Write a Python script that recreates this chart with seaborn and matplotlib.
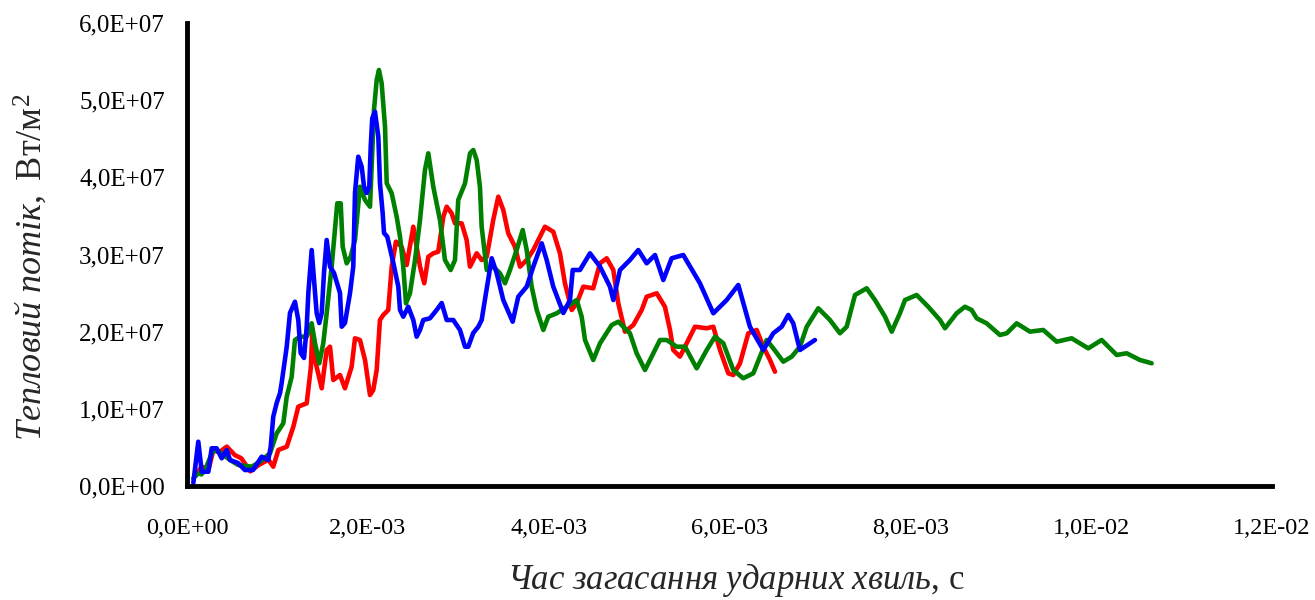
import numpy as np
import pandas as pd
import matplotlib
matplotlib.use("Agg")
import matplotlib.pyplot as plt
from matplotlib.ticker import FixedLocator, FuncFormatter
import seaborn as sns

# ---- data (time in ms, heat flux in 1e7 W/m^2) ----
t_red = [0.10, 0.16, 0.24, 0.29, 0.36, 0.44, 0.53, 0.60, 0.70, 0.79, 0.90, 0.954, 1.010, 1.103, 1.176,
         1.231, 1.324, 1.371, 1.386, 1.416, 1.490, 1.545, 1.582, 1.618, 1.692, 1.747, 1.821, 1.858, 1.913,
         1.969, 2.024, 2.060, 2.098, 2.134, 2.171, 2.226, 2.264, 2.311, 2.374, 2.430, 2.503, 2.577, 2.624,
         2.669, 2.724, 2.779, 2.835, 2.872, 2.927, 2.964, 3.038, 3.093, 3.130, 3.185, 3.204, 3.259, 3.315,
         3.387, 3.443, 3.498, 3.553, 3.627, 3.683, 3.757, 3.830, 3.959, 4.051, 4.125, 4.180, 4.255, 4.310,
         4.383, 4.493, 4.568, 4.642, 4.715, 4.770, 4.844, 4.936, 5.029, 5.084, 5.195, 5.286, 5.342, 5.378,
         5.452, 5.526, 5.618, 5.748, 5.821, 5.895, 5.987, 6.042, 6.116, 6.208, 6.301, 6.374, 6.448, 6.503]
q_red = [0.15, 0.25, 0.22, 0.46, 0.44, 0.51, 0.40, 0.36, 0.19, 0.27, 0.34, 0.25, 0.467, 0.509, 0.768,
         1.028, 1.072, 1.546, 2.022, 1.633, 1.266, 1.762, 1.805, 1.374, 1.438, 1.266, 1.546, 1.914, 1.892,
         1.633, 1.179, 1.244, 1.503, 2.151, 2.216, 2.281, 2.842, 3.166, 3.101, 2.864, 3.360, 2.842, 2.627,
         2.971, 3.015, 3.036, 3.490, 3.619, 3.534, 3.404, 3.404, 3.188, 2.842, 2.971, 3.015, 2.929, 2.971,
         3.447, 3.749, 3.577, 3.275, 3.101, 2.842, 2.929, 3.058, 3.360, 3.295, 3.015, 2.627, 2.281, 2.367,
         2.583, 2.562, 2.886, 2.951, 2.799, 2.367, 2.000, 2.086, 2.281, 2.453, 2.497, 2.323, 2.022, 1.762,
         1.676, 1.849, 2.064, 2.044, 2.064, 1.762, 1.460, 1.438, 1.590, 1.979, 2.022, 1.805, 1.633, 1.481]

t_green = [0.07, 0.125, 0.16, 0.20, 0.291, 0.36, 0.476, 0.567, 0.716, 0.807, 0.918, 0.992, 1.065, 1.103,
           1.158, 1.194, 1.250, 1.324, 1.379, 1.416, 1.463, 1.507, 1.545, 1.600, 1.629, 1.662, 1.700, 1.722,
           1.766, 1.810, 1.858, 1.913, 1.969, 2.024, 2.068, 2.098, 2.123, 2.153, 2.190, 2.209, 2.264, 2.319,
           2.356, 2.392, 2.422, 2.466, 2.522, 2.577, 2.632, 2.669, 2.724, 2.798, 2.853, 2.916, 2.964, 3.000,
           3.075, 3.130, 3.166, 3.204, 3.240, 3.259, 3.315, 3.387, 3.462, 3.517, 3.572, 3.646, 3.713, 3.757,
           3.812, 3.868, 3.941, 3.996, 4.089, 4.199, 4.310, 4.365, 4.402, 4.493, 4.568, 4.697, 4.770, 4.899,
           4.973, 5.065, 5.176, 5.231, 5.305, 5.416, 5.508, 5.637, 5.748, 5.839, 5.932, 6.042, 6.152, 6.263,
           6.337, 6.411, 6.484, 6.595, 6.688, 6.779, 6.854, 6.982, 7.111, 7.222, 7.296, 7.388, 7.517, 7.609,
           7.720, 7.794, 7.885, 7.941, 8.070, 8.198, 8.328, 8.383, 8.512, 8.604, 8.678, 8.734, 8.844, 8.991,
           9.066, 9.176, 9.323, 9.470, 9.618, 9.784, 9.968, 10.116, 10.282, 10.392, 10.540, 10.669]
q_green = [0.10, 0.165, 0.15, 0.21, 0.467, 0.44, 0.337, 0.272, 0.250, 0.315, 0.424, 0.683, 0.812, 1.157,
           1.416, 1.892, 1.935, 1.935, 2.108, 1.849, 1.590, 1.849, 2.238, 2.842, 3.231, 3.663, 3.663, 3.101,
           2.886, 2.971, 3.188, 3.878, 3.706, 3.619, 4.872, 5.261, 5.391, 5.218, 4.656, 3.923, 3.793, 3.490,
           3.231, 2.842, 2.367, 2.497, 2.929, 3.447, 4.095, 4.311, 3.878, 3.447, 2.929, 2.799, 2.929, 3.706,
           3.923, 4.311, 4.354, 4.224, 3.878, 3.360, 2.799, 2.842, 2.756, 2.627, 2.799, 3.058, 3.317, 3.058,
           2.583, 2.281, 2.022, 2.194, 2.238, 2.323, 2.410, 2.194, 1.892, 1.633, 1.849, 2.086, 2.129, 1.979,
           1.720, 1.503, 1.762, 1.892, 1.892, 1.805, 1.805, 1.525, 1.762, 1.935, 1.849, 1.503, 1.396, 1.460,
           1.676, 1.892, 1.784, 1.611, 1.676, 1.805, 2.064, 2.303, 2.151, 1.979, 2.064, 2.475, 2.562, 2.410,
           2.194, 2.000, 2.238, 2.410, 2.475, 2.323, 2.151, 2.044, 2.238, 2.323, 2.281, 2.173, 2.108, 1.957,
           1.979, 2.108, 2.000, 2.022, 1.870, 1.914, 1.784, 1.892, 1.698, 1.720, 1.633, 1.590]

t_blue = [0.07, 0.125, 0.163, 0.236, 0.273, 0.328, 0.384, 0.439, 0.476, 0.564, 0.641, 0.730, 0.826, 0.899,
          0.926, 0.954, 0.992, 1.029, 1.047, 1.103, 1.139, 1.194, 1.231, 1.257, 1.294, 1.324, 1.342, 1.379,
          1.405, 1.434, 1.463, 1.490, 1.515, 1.545, 1.582, 1.626, 1.692, 1.711, 1.747, 1.803, 1.839, 1.858,
          1.894, 1.932, 1.958, 1.987, 2.016, 2.032, 2.049, 2.079, 2.116, 2.134, 2.164, 2.179, 2.215, 2.282,
          2.337, 2.356, 2.392, 2.447, 2.503, 2.540, 2.577, 2.613, 2.687, 2.761, 2.817, 2.872, 2.945, 3.019,
          3.075, 3.111, 3.166, 3.222, 3.259, 3.307, 3.370, 3.425, 3.498, 3.602, 3.664, 3.757, 3.830, 3.923,
          3.978, 4.051, 4.162, 4.236, 4.266, 4.346, 4.457, 4.568, 4.678, 4.715, 4.789, 4.899, 4.991, 5.084,
          5.176, 5.268, 5.360, 5.489, 5.673, 5.821, 5.969, 6.097, 6.226, 6.374, 6.484, 6.577, 6.650, 6.705,
          6.779, 6.945]
q_blue = [0.04, 0.574, 0.185, 0.185, 0.489, 0.489, 0.359, 0.467, 0.337, 0.298, 0.207, 0.207, 0.380, 0.337,
          0.509, 0.898, 1.076, 1.205, 1.335, 1.805, 2.242, 2.388, 2.151, 1.723, 1.659, 2.064, 2.501, 3.058,
          2.669, 2.242, 2.112, 2.242, 2.760, 3.188, 2.842, 2.760, 2.501, 2.064, 2.112, 2.501, 2.842, 3.797,
          4.267, 4.138, 3.878, 3.797, 3.878, 4.397, 4.765, 4.850, 4.526, 3.926, 3.538, 3.278, 3.231, 2.890,
          2.583, 2.281, 2.194, 2.323, 2.151, 1.935, 2.022, 2.151, 2.173, 2.281, 2.371, 2.151, 2.151, 2.022,
          1.805, 1.805, 1.983, 2.064, 2.151, 2.501, 2.951, 2.760, 2.410, 2.129, 2.453, 2.583, 2.842, 3.145,
          2.929, 2.583, 2.242, 2.410, 2.799, 2.799, 3.015, 2.842, 2.583, 2.410, 2.799, 2.929, 3.058, 2.886,
          2.993, 2.669, 2.951, 2.993, 2.627, 2.238, 2.410, 2.605, 2.064, 1.762, 1.979, 2.064, 2.216, 2.108,
          1.762, 1.892]

series_names = ["1", "2", "3"]
series_colors = ["#FF0000", "#008000", "#0000FF"]

x_ticks = [0.0, 0.002, 0.004, 0.006, 0.008, 0.010, 0.012]
y_ticks = [0.0, 1e7, 2e7, 3e7, 4e7, 5e7, 6e7]

# ---- long-format table ----
frames = []
for name, tt, qq in zip(series_names, [t_red, t_green, t_blue], [q_red, q_green, q_blue]):
    frames.append(pd.DataFrame({"t": np.array(tt) * 1e-3, "q": np.array(qq) * 1e7, "s": name}))
df = pd.concat(frames, ignore_index=True)

sns.set_style("white")
plt.rcParams["font.family"] = ["Liberation Serif", "DejaVu Serif"]
plt.rcParams["mathtext.fontset"] = "custom"
plt.rcParams["mathtext.rm"] = "Liberation Serif"
plt.rcParams["mathtext.it"] = "Liberation Serif:italic"

fig = plt.figure(figsize=(13.15, 6.0), dpi=100)
ax = fig.add_axes([0.1422, 0.19, 0.9673 - 0.1422, 0.9617 - 0.19])

sns.lineplot(data=df, x="t", y="q", hue="s", hue_order=series_names,
             palette=dict(zip(series_names, series_colors)), estimator=None,
             linewidth=3.3, legend=False, ax=ax, sort=False)

ax.set_xlim(x_ticks[0], x_ticks[-1])
ax.set_ylim(y_ticks[0], y_ticks[-1])
ax.xaxis.set_major_locator(FixedLocator(x_ticks))
ax.yaxis.set_major_locator(FixedLocator(y_ticks))
fmt = FuncFormatter(lambda v, p: f"{v:.1E}".replace(".", ","))
ax.xaxis.set_major_formatter(fmt)
ax.yaxis.set_major_formatter(fmt)

for side in ["top", "right"]:
    ax.spines[side].set_visible(False)
for side in ["left", "bottom"]:
    ax.spines[side].set_linewidth(3.5)
    ax.spines[side].set_color("black")

ax.tick_params(axis="both", which="major", direction="out", length=5, width=3,
               color="black", labelcolor="black")
ax.tick_params(axis="x", labelsize=17.5, pad=18)
ax.tick_params(axis="y", labelsize=18, pad=11)

ax.set_xlabel(r"$\mathit{Час\ загасання\ ударних\ хвиль}$, с", fontsize=25)
ax.xaxis.set_label_coords(0.506, -0.163)
ax.set_ylabel(r"$\mathit{Тепловий\ потік,}$ Вт/м$^2$", fontsize=26)
ax.yaxis.set_label_coords(-0.127, 0.472)

fig.savefig("out.png", dpi=100, facecolor="white")
